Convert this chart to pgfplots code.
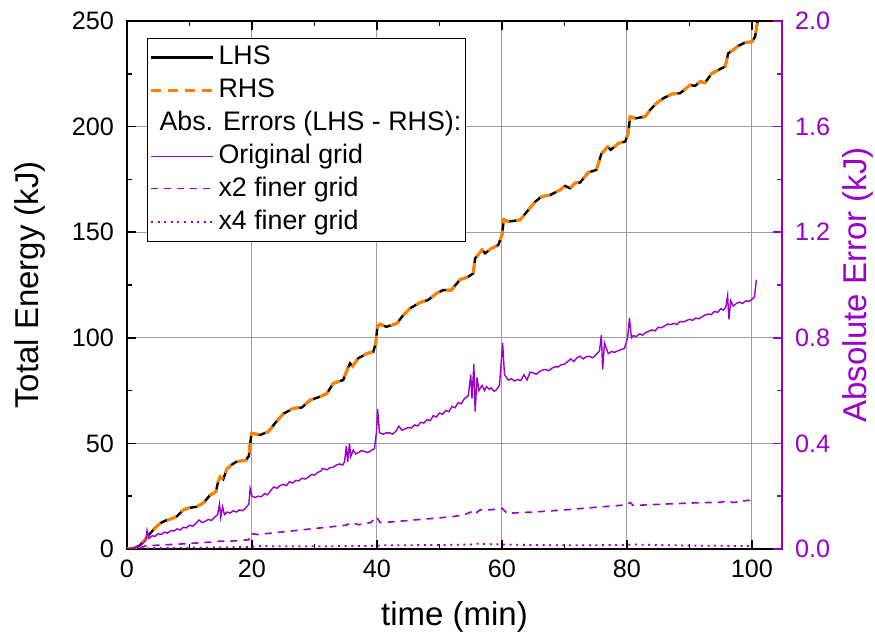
\documentclass[border=0pt]{standalone}
\usepackage{fontspec}
\setmainfont{Liberation Sans}
\usepackage{pgfplots}
\usepackage{pgfplotstable}
\pgfplotsset{compat=1.18}
\definecolor{errpurple}{RGB}{155,0,200}
\definecolor{rhsorange}{RGB}{255,128,0}

% total energy (LHS and RHS coincide at this scale)
\pgfplotstableread{
t E
0 0
1 0.3
2 1.5
2.6 3.5
3.7 7.4
4.5 10
5.3 12.2
6.2 13.5
6.9 14
8 15.5
9 18.5
10 19.5
11.2 20
12.3 22
13.3 25.6
14.2 27
14.6 32
14.9 34.2
15.4 33
16 38
16.8 40
17.5 41.3
19 42
19.5 44
19.7 50
19.95 54.8
21.3 54
22.6 55.5
23.7 59.6
25 64
26.6 66.6
28 67
29.3 70.5
30.9 72.1
32 73.7
33 78.5
34.6 80
35.2 84.8
35.7 87.9
36.1 86.5
37 90.3
38.4 92.6
39.4 93.4
39.8 97.4
40.05 105.2
40.5 106.5
41.5 105.2
43.2 106.8
44 110
45.3 114
46.9 116.7
48.2 117.9
49.5 121
50.6 122.6
51.9 122.6
53.3 127.6
54.6 128.9
55.4 130.5
55.7 137.6
56.8 141.6
57.3 140
58.3 142.3
59.4 143.9
60 148.7
60.3 156
61 155
62.9 155.8
64.2 160.5
65.3 164.4
66.3 166.8
67.7 167.6
69.3 170
70.1 171.9
70.9 170.8
71.7 173.3
72.5 173.5
73.8 178.3
75.1 179.5
75.9 187.1
76.9 190.4
77.4 189
78.6 192
79.7 192.9
80.2 196.8
80.5 204.7
81.3 203.9
82.9 204.7
83.7 207.9
84.7 211
85.8 213.4
87.2 215.4
88.5 215.8
90.1 219.7
90.9 219.3
91.7 221.3
92.5 220.8
93.5 225
94.6 226.8
95.7 228.4
96.2 234.7
97 236.3
97.8 238.2
98.9 239.8
100 240.2
100.5 242.6
100.9 250
101.1 256
}\energy

% absolute error, original grid
\pgfplotstableread{
t e
0 0
0.5 0.002
1 0.004
1.5 0.008
2 0.012
2.5 0.02
3 0.034
3.2 0.07
3.5 0.04
4 0.05
4.5 0.048
5 0.058
5.5 0.055
6 0.064
6.5 0.06
7 0.07
7.5 0.068
8 0.076
8.5 0.072
9 0.082
9.5 0.08
10 0.09
10.5 0.086
11 0.096
11.5 0.11
12 0.1
12.5 0.105
13 0.112
13.5 0.108
14 0.12
14.5 0.13
14.8 0.17
15 0.12
15.3 0.16
15.6 0.13
16 0.14
16.5 0.136
17 0.145
17.5 0.14
18 0.148
18.5 0.145
19 0.155
19.5 0.17
19.7 0.23
20 0.2
20.5 0.195
21 0.2
21.5 0.198
22 0.21
22.5 0.205
23 0.222
23.5 0.235
24 0.23
24.5 0.24
25 0.245
25.5 0.24
26 0.255
26.5 0.25
27 0.26
27.5 0.258
28 0.268
28.5 0.265
29 0.272
29.5 0.282
30 0.28
30.5 0.29
31 0.295
31.3 0.305
32 0.3
32.5 0.308
33 0.31
33.5 0.318
34 0.322
34.5 0.318
34.8 0.33
35.1 0.39
35.3 0.33
35.6 0.4
35.8 0.35
36.2 0.375
36.6 0.36
37 0.365
37.5 0.372
38 0.37
38.5 0.365
39 0.372
39.6 0.38
39.9 0.44
40.1 0.53
40.4 0.44
41 0.435
41.5 0.44
42 0.44
42.5 0.435
43 0.445
43.5 0.465
44 0.45
44.5 0.455
45 0.46
45.5 0.458
46 0.47
46.5 0.466
47 0.48
47.5 0.477
48 0.49
48.5 0.486
49 0.505
49.5 0.5
50 0.515
50.5 0.51
51 0.525
51.5 0.52
52 0.54
52.5 0.535
53 0.555
53.5 0.55
54 0.57
54.6 0.58
55 0.66
55.2 0.57
55.5 0.70
55.7 0.52
56 0.65
56.3 0.6
56.8 0.62
57.2 0.6
57.5 0.615
58 0.605
58.3 0.61
58.7 0.598
59 0.6
59.6 0.62
60.1 0.78
60.4 0.66
61 0.64
61.5 0.645
62 0.636
62.5 0.642
63 0.638
63.5 0.66
64 0.64
64.5 0.67
65 0.667
65.5 0.662
66 0.672
66.5 0.678
67 0.68
67.5 0.675
68 0.685
68.5 0.69
69 0.69
69.5 0.698
70 0.7
70.5 0.71
71 0.72
71.5 0.71
72 0.725
72.5 0.73
73 0.72
73.5 0.728
74 0.73
74.5 0.724
75 0.735
75.6 0.75
75.9 0.81
76.1 0.68
76.4 0.78
77 0.74
77.5 0.748
78 0.745
78.5 0.75
79 0.755
79.6 0.76
80.1 0.80
80.4 0.875
80.7 0.80
81 0.808
81.5 0.805
82 0.815
82.5 0.81
83 0.82
83.5 0.825
84 0.83
84.5 0.826
85 0.84
85.5 0.838
86 0.845
86.5 0.852
87 0.85
87.5 0.855
88 0.85
88.5 0.862
89 0.86
89.5 0.865
90 0.87
90.5 0.866
91 0.875
91.5 0.872
92 0.88
92.5 0.886
93 0.89
93.5 0.888
94 0.9
94.5 0.896
95 0.91
95.4 0.905
95.8 0.915
96.1 0.96
96.3 0.87
96.6 0.94
97 0.92
97.5 0.93
98 0.935
98.5 0.93
99 0.94
99.5 0.938
100 0.945
100.4 0.955
100.7 1.02
}\errorig

% x2 finer grid
\pgfplotstableread{
t e
0 0
2 0.003
3 0.012
4 0.013
6 0.016
8 0.018
10 0.021
12 0.024
14 0.027
15 0.03
16 0.029
18 0.032
19.5 0.035
19.8 0.058
21 0.055
23 0.06
25 0.065
27 0.07
29 0.075
31 0.08
33 0.085
35 0.09
36 0.1
37 0.092
39 0.1
39.9 0.122
40.5 0.1
42 0.102
44 0.106
46 0.11
48 0.114
50 0.118
52 0.122
54 0.13
55 0.14
55.5 0.13
56.5 0.148
58 0.148
60 0.154
60.8 0.135
63 0.138
65 0.14
67 0.143
70 0.148
72 0.152
74 0.156
76 0.16
78 0.163
80 0.168
80.5 0.176
81 0.165
84 0.168
87 0.171
90 0.174
93 0.176
95 0.177
96 0.182
97 0.176
99 0.183
100.5 0.186
}\errtwo

% x4 finer grid
\pgfplotstableread{
t e
0 0
3 0.003
10 0.005
20 0.008
20.5 0.011
30 0.01
40 0.012
41 0.014
50 0.015
55 0.017
56 0.02
60 0.017
65 0.015
70 0.014
80 0.015
81 0.017
90 0.013
100 0.011
}\errfour

\begin{document}
\begin{tikzpicture}
\pgfplotsset{
  every axis/.append style={
    scale only axis, width=327.5pt, height=264pt,
    xmin=0, xmax=104.8,
    tick align=inside, major tick length=4.5pt, minor tick length=2.5pt,
    /pgf/number format/assume math mode=true,
    tick label style={font=\fontsize{12.6}{14}\selectfont},
    label style={font=\fontsize{16.5}{19}\selectfont},
    every tick/.append style={line width=0.75pt},
  },
  x2style/.style={draw=errpurple, line width=0.8pt, dash pattern=on 3.5pt off 3pt},
  x4style/.style={draw=errpurple, line width=0.9pt, dash pattern=on 1pt off 2.3pt},
}
\begin{axis}[
  name=main,
  ymin=0, ymax=250,
  xtick={0,20,...,100}, ytick={0,50,...,250},
  minor x tick num=1, minor y tick num=1,
  ytick pos=left,
  grid=major, major grid style={gray!75, line width=0.5pt},
  axis line style={line width=1pt},
  every tick/.append style={black},
  xlabel={time (min)}, ylabel={Total Energy (kJ)},
  xlabel style={at={(axis description cs:0.5,-0.129)}, anchor=center},
  ylabel style={at={(axis description cs:-0.148,0.5)}, anchor=center},
  xticklabel style={yshift=-2pt},
  yticklabel style={xshift=-3pt},
]
\addplot[black, line width=1.2pt] table[x=t, y=E] {\energy};
\addplot[rhsorange, line width=1.5pt, dash pattern=on 5pt off 3.5pt] table[x=t, y=E] {\energy};
\end{axis}

\begin{axis}[
  ymin=0, ymax=2,
  axis y line*=right, axis x line=none,
  ytick={0,0.4,0.8,1.2,1.6,2.0}, minor y tick num=1,
  y axis line style={errpurple, line width=1pt},
  every tick/.append style={errpurple},
  yticklabel style={errpurple, xshift=3pt,
    /pgf/number format/.cd, fixed, fixed zerofill, precision=1},
  ylabel={Absolute Error (kJ)},
  ylabel style={errpurple, at={(axis description cs:1.116,0.5)}, anchor=center},
  legend style={at={(axis description cs:0.0306,0.968)}, anchor=north west,
    draw, line width=0.5pt, fill=white,
    font=\fontsize{13.4}{15}\selectfont,
    inner xsep=1pt, inner ysep=2pt, row sep=1.5pt, column sep=1pt,
    nodes={inner sep=1pt, text height=10pt, text depth=3pt},
    cells={anchor=west}},
  legend image code/.code={\draw[#1] (0pt,0pt) -- (31pt,0pt);},
]
\addplot[errpurple, line width=0.7pt, forget plot] table[x=t, y=e] {\errorig};
\addplot[x2style, forget plot] table[x=t, y=e] {\errtwo};
\addplot[x4style, forget plot] table[x=t, y=e] {\errfour};
\addlegendimage{black, line width=1.2pt}
\addlegendentry{LHS}
\addlegendimage{rhsorange, line width=1.5pt, dash pattern=on 5pt off 3.5pt}
\addlegendentry{RHS}
\addlegendimage{empty legend}
\addlegendentry{\hspace*{-29.5pt}Abs. Errors (LHS - RHS):}
\addlegendimage{draw=errpurple, line width=0.7pt}
\addlegendentry{Original grid}
\addlegendimage{x2style, yshift=0.5pt}
\addlegendentry{x2 finer grid}
\addlegendimage{x4style}
\addlegendentry{x4 finer grid}
\end{axis}

\pgfresetboundingbox
\path (main.south west) ++(-63.5pt,-46pt) rectangle ++(437.5pt,320.5pt);
\end{tikzpicture}
\end{document}
